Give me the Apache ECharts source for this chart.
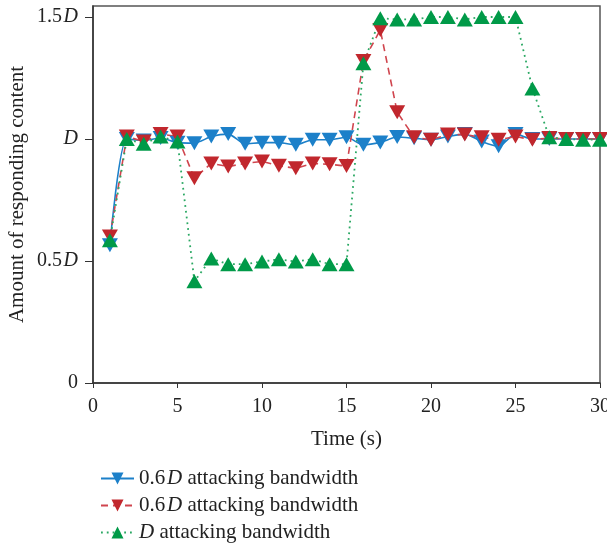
<!DOCTYPE html>
<html><head><meta charset="utf-8">
<script src="https://cdn.jsdelivr.net/npm/echarts@6/dist/echarts.min.js"></script>
<style>html,body{margin:0;padding:0;background:#fff}#c{width:607px;height:544px}</style>
</head><body><div id="c"></div>
<script>
const times = [1,2,3,4,5,6,7,8,9,10,11,12,13,14,15,16,17,18,19,20,21,22,23,24,25,26,27,28,29,30];
const blueValues = [0.565,1.0,0.994,1.004,0.985,0.983,1.01,1.02,0.98,0.985,0.985,0.976,0.997,0.997,1.007,0.976,0.986,1.008,1.003,0.997,1.01,1.02,0.99,0.97,1.02,1.0,1.0,1.0,1.0,1.0];
const redValues = [0.6,1.01,0.99,1.02,1.01,0.839,0.9,0.887,0.9,0.908,0.89,0.88,0.9,0.896,0.889,1.32,1.447,1.11,1.007,0.997,1.018,1.018,1.007,0.997,1.01,0.997,1.004,1.0,1.0,1.0];
const greenValues = [0.585,1.0,0.98,1.01,0.99,0.417,0.51,0.487,0.487,0.498,0.507,0.498,0.507,0.487,0.487,1.31,1.495,1.49,1.49,1.5,1.5,1.49,1.5,1.5,1.5,1.207,1.007,1.0,0.997,0.997];
const yTicks = [0,0.5,1,1.5];
const yTickLabels = {0:'0',0.5:'{n|0.5\u200a}{d|D}',1:'{d|D}',1.5:'{n|1.5\u200a}{d|D}'};
const seriesNames = ['0.6D attacking bandwidth (solid)','0.6D attacking bandwidth (dashed)','D attacking bandwidth'];
const legendLabels = ['{n|0.6\u200a}{d|D}{n| attacking bandwidth}','{n|0.6\u200a}{d|D}{n| attacking bandwidth}','{d|D}{n| attacking bandwidth}'];

const FONT = '"Liberation Serif", "DejaVu Serif", serif';
const BLUE = '#1c80c9', RED = '#c1272d', GREEN = '#009a48';
const pair = v => times.map((t,i)=>[t,v[i]]);
const chart = echarts.init(document.getElementById('c'));
const mkRich = s => ({n:{fontFamily:FONT,fontSize:s,color:'#222'},d:{fontFamily:FONT,fontSize:s,fontStyle:'italic',color:'#222'}});
const legendTops = [463, 490, 517];
chart.setOption({
  animation:false,
  grid:{left:93,right:7,top:6,bottom:161,outerBoundsMode:'none',containLabel:false,show:true,borderColor:'#555',borderWidth:1.5,backgroundColor:'transparent'},
  xAxis:{type:'value',min:0,max:30,interval:5,
    name:'Time (s)',nameLocation:'middle',nameGap:46,nameMoveOverlap:false,
    nameTextStyle:{fontFamily:FONT,fontSize:21,color:'#222'},
    axisLine:{lineStyle:{color:'#333',width:1.5}},
    axisTick:{show:true,inside:false,length:5,lineStyle:{color:'#333'}},
    axisLabel:{fontFamily:FONT,fontSize:20,color:'#222',margin:14},
    splitLine:{show:false}},
  yAxis:{type:'value',min:0,max:1.545,
    name:'Amount of responding content',nameLocation:'middle',nameGap:65,nameMoveOverlap:false,
    nameTextStyle:{fontFamily:FONT,fontSize:21,color:'#222'},
    axisLine:{show:true,lineStyle:{color:'#333',width:1.5}},
    axisTick:{show:true,length:8,customValues:yTicks,lineStyle:{color:'#333'}},
    axisLabel:{customValues:yTicks,margin:15,formatter:v=>yTickLabels[v]!==undefined?yTickLabels[v]:'',rich:mkRich(20),fontFamily:FONT,fontSize:20,color:'#222'},
    splitLine:{show:false}},
  legend:seriesNames.map((nm,i)=>({orient:'vertical',left:95,top:legendTops[i],itemWidth:33,itemHeight:15,
    data:[nm],
    formatter:name=>legendLabels[seriesNames.indexOf(name)],
    textStyle:{rich:mkRich(21),fontFamily:FONT,fontSize:21,color:'#222'}})),
  series:[
    {name:seriesNames[0],type:'line',data:pair(blueValues),smooth:0.25,symbol:'triangle',symbolRotate:180,symbolSize:[16,14],
      itemStyle:{color:BLUE},lineStyle:{color:BLUE,width:1.6,type:'solid'}},
    {name:seriesNames[1],type:'line',data:pair(redValues),symbol:'triangle',symbolRotate:180,symbolSize:[16,14],
      itemStyle:{color:RED},lineStyle:{color:'#d0454e',width:1.6,type:[7,5]}},
    {name:seriesNames[2],type:'line',data:pair(greenValues),symbol:'triangle',symbolSize:[16,14],
      itemStyle:{color:GREEN},lineStyle:{color:'#2aa863',width:1.8,type:[1.8,4]}}
  ]
});
</script></body></html>
